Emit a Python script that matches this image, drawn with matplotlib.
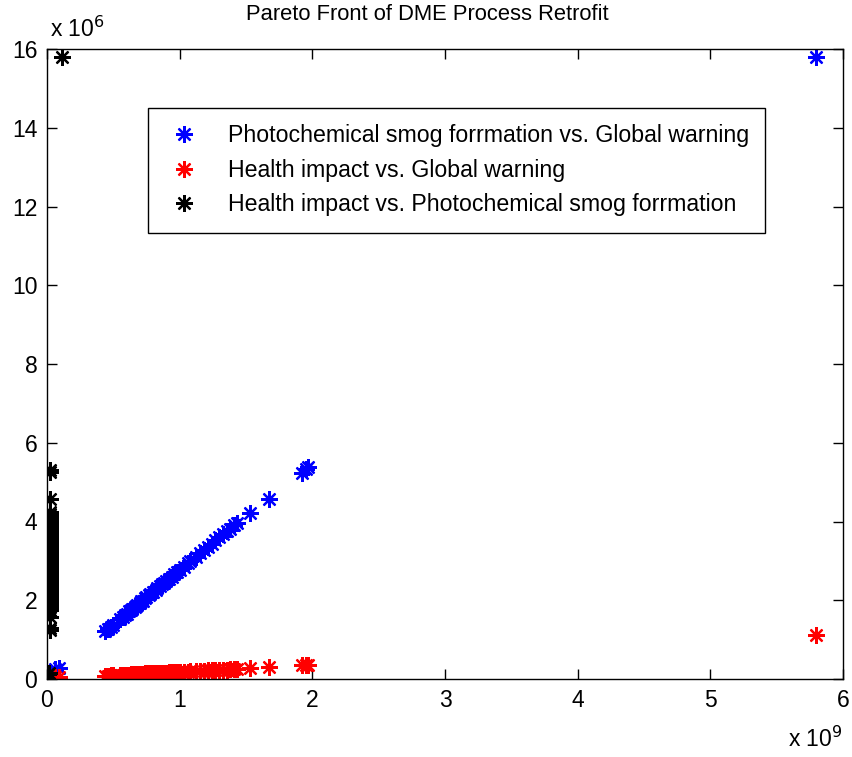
import matplotlib
matplotlib.use("Agg")
import matplotlib.pyplot as plt
from matplotlib.ticker import FixedLocator, FuncFormatter

plt.rcParams['font.family'] = ['Liberation Sans', 'DejaVu Sans']

# Global warming values (kg CO2-eq) shared by the blue and red series
global_warming = [0.06e9, 0.09e9,
                  0.44e9, 0.46e9, 0.48e9, 0.50e9, 0.55e9, 0.57e9, 0.59e9, 0.60e9,
                  0.62e9, 0.63e9, 0.64e9, 0.66e9, 0.67e9, 0.68e9, 0.70e9, 0.71e9,
                  0.72e9, 0.74e9, 0.75e9, 0.77e9, 0.78e9, 0.80e9, 0.82e9, 0.83e9,
                  0.85e9, 0.87e9, 0.88e9, 0.90e9, 0.92e9, 0.94e9, 0.96e9, 0.98e9,
                  1.00e9, 1.03e9, 1.06e9, 1.08e9, 1.12e9, 1.15e9, 1.18e9, 1.21e9,
                  1.24e9, 1.27e9, 1.30e9, 1.33e9, 1.36e9, 1.38e9, 1.41e9, 1.43e9,
                  1.53e9, 1.67e9, 1.92e9, 1.95e9, 1.97e9, 5.80e9]

# Photochemical smog formation values
smog = [0.25e6, 0.28e6,
        1.22e6, 1.28e6, 1.33e6, 1.38e6, 1.52e6, 1.58e6, 1.63e6, 1.66e6,
        1.72e6, 1.74e6, 1.77e6, 1.83e6, 1.85e6, 1.88e6, 1.94e6, 1.97e6,
        1.99e6, 2.05e6, 2.08e6, 2.13e6, 2.16e6, 2.21e6, 2.27e6, 2.30e6,
        2.35e6, 2.41e6, 2.44e6, 2.49e6, 2.55e6, 2.60e6, 2.66e6, 2.71e6,
        2.77e6, 2.85e6, 2.94e6, 2.99e6, 3.10e6, 3.19e6, 3.27e6, 3.35e6,
        3.43e6, 3.52e6, 3.60e6, 3.68e6, 3.77e6, 3.82e6, 3.91e6, 3.96e6,
        4.21e6, 4.57e6, 5.22e6, 5.33e6, 5.38e6, 15.80e6]

# Health impact values
health = [0.05e6, 0.06e6,
          0.08e6, 0.08e6, 0.09e6, 0.09e6, 0.10e6, 0.10e6, 0.11e6, 0.11e6,
          0.11e6, 0.12e6, 0.12e6, 0.12e6, 0.12e6, 0.13e6, 0.13e6, 0.13e6,
          0.13e6, 0.14e6, 0.14e6, 0.14e6, 0.14e6, 0.15e6, 0.15e6, 0.15e6,
          0.16e6, 0.16e6, 0.16e6, 0.16e6, 0.17e6, 0.17e6, 0.17e6, 0.18e6,
          0.18e6, 0.19e6, 0.19e6, 0.20e6, 0.20e6, 0.21e6, 0.21e6, 0.22e6,
          0.22e6, 0.23e6, 0.23e6, 0.24e6, 0.24e6, 0.25e6, 0.25e6, 0.26e6,
          0.27e6, 0.30e6, 0.35e6, 0.36e6, 0.36e6, 1.12e6]

# Health impact vs. photochemical smog formation
hi_ps_x = [0.010e9, 0.015e9,
           0.020e9, 0.020e9, 0.021e9, 0.020e9, 0.022e9, 0.020e9, 0.021e9, 0.020e9,
           0.022e9, 0.020e9, 0.021e9, 0.020e9, 0.022e9, 0.021e9, 0.020e9, 0.022e9,
           0.020e9, 0.021e9, 0.020e9, 0.022e9, 0.020e9, 0.021e9, 0.020e9, 0.022e9,
           0.021e9, 0.020e9, 0.022e9, 0.020e9, 0.021e9, 0.020e9, 0.022e9, 0.020e9,
           0.021e9, 0.020e9, 0.022e9, 0.020e9, 0.021e9, 0.020e9, 0.022e9, 0.020e9,
           0.021e9, 0.020e9, 0.022e9, 0.020e9, 0.021e9, 0.020e9, 0.022e9, 0.021e9,
           0.020e9, 0.021e9, 0.020e9, 0.022e9, 0.021e9, 0.113e9]
hi_ps_y = [0.12e6, 0.16e6,
           1.24e6, 1.30e6, 1.57e6, 1.75e6, 1.82e6, 1.90e6, 1.98e6, 2.05e6,
           2.10e6, 2.16e6, 2.22e6, 2.28e6, 2.33e6, 2.40e6, 2.46e6, 2.52e6,
           2.58e6, 2.64e6, 2.70e6, 2.76e6, 2.82e6, 2.88e6, 2.94e6, 3.00e6,
           3.06e6, 3.12e6, 3.18e6, 3.24e6, 3.30e6, 3.36e6, 3.42e6, 3.48e6,
           3.54e6, 3.60e6, 3.66e6, 3.72e6, 3.78e6, 3.84e6, 3.90e6, 3.96e6,
           4.02e6, 4.08e6, 4.14e6, 4.20e6, 3.70e6, 3.50e6, 2.90e6, 2.50e6,
           2.20e6, 4.24e6, 4.57e6, 5.25e6, 5.32e6, 15.80e6]

x_ticks = [0, 1e9, 2e9, 3e9, 4e9, 5e9, 6e9]
y_ticks = [0, 2e6, 4e6, 6e6, 8e6, 10e6, 12e6, 14e6, 16e6]

labels = ['Photochemical smog forrmation vs. Global warning',
          'Health impact vs. Global warning',
          'Health impact vs. Photochemical smog forrmation']

fig = plt.figure(figsize=(8.53, 7.57), dpi=100)
ax = fig.add_axes([47 / 853, 78 / 757, 796 / 853, 630 / 757])

star = (8, 2, 0)
mkw = dict(linestyle='none', marker=star, markersize=12, markeredgewidth=1.6)
ax.plot(global_warming, smog, color='#0000ff', label=labels[0], **mkw)
ax.plot(global_warming, health, color='#ff0000', label=labels[1], **mkw)
ax.plot(hi_ps_x, hi_ps_y, color='#000000', label=labels[2], **mkw)

ax.set_xlim(0, 6e9)
ax.set_ylim(0, 16e6)
ax.xaxis.set_major_locator(FixedLocator(x_ticks))
ax.yaxis.set_major_locator(FixedLocator(y_ticks))
ax.xaxis.set_major_formatter(FuncFormatter(lambda v, p: f"{v / 1e9:g}"))
ax.yaxis.set_major_formatter(FuncFormatter(lambda v, p: f"{v / 1e6:g}"))
ax.tick_params(direction='in', length=7, width=1, top=True, right=True,
               labelsize=16.5, pad=7, colors='black')
for sp in ax.spines.values():
    sp.set_linewidth(1.0)
    sp.set_color('black')

fig.text(427 / 853, 1 - 15 / 757, 'Pareto Front of DME Process Retrofit',
         ha='center', va='center', fontsize=15.8)
fig.text(50 / 853, 1 - 37 / 757, r'x 10$^{6}$', ha='left', va='baseline', fontsize=16.5)
fig.text(788 / 853, 1 - 747 / 757, r'x 10$^{9}$', ha='left', va='baseline', fontsize=16.5)

leg = ax.legend(loc='upper left', bbox_to_anchor=(148 / 853, 1 - 108 / 757),
                bbox_transform=fig.transFigure, borderaxespad=0, fontsize=16.7,
                numpoints=1, fancybox=False, edgecolor='black', framealpha=1,
                borderpad=0.7, handlelength=1.7, handletextpad=1.05,
                labelspacing=0.5)
leg.get_frame().set_linewidth(1.0)

fig.savefig('out.png', dpi=100)
